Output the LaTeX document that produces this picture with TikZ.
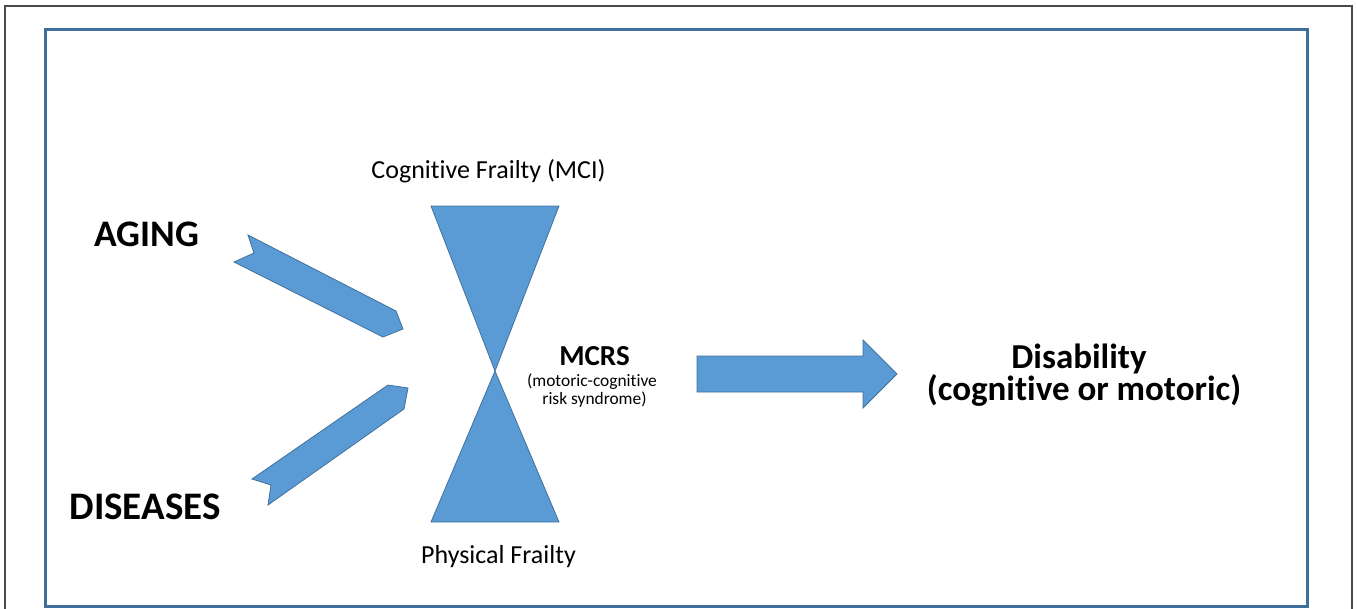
\documentclass[tikz,border=0pt]{standalone}
\usepackage{fontspec}
\setmainfont[Ligatures={NoCommon}]{Carlito}
\definecolor{shapeblue}{HTML}{5B9BD5}
\definecolor{edgeblue}{HTML}{41719C}
\definecolor{frameblue}{HTML}{3F6D9C}
\definecolor{outergray}{HTML}{4A4A4A}
\begin{document}
\begin{tikzpicture}[x=1pt,y=-1pt,
  blockshape/.style={fill=shapeblue, draw=edgeblue, line width=0.8pt, line join=miter},
  lbl/.style={anchor=base, inner sep=0pt, text=black}]
\useasboundingbox (0,0) rectangle (1357,608);
\begin{scope}
  \clip (0,0) rectangle (1357,608);
  \draw[outergray, line width=1.5pt] (5,6) rectangle (1352,620);
\end{scope}
\draw[frameblue, line width=3pt] (45,29) rectangle (1307,606);

% notched arrows
\path[blockshape] (248,235) -- (396,311) -- (403,329) -- (383,337) -- (234,262) -- (254,253) -- cycle;
\path[blockshape] (252,479) -- (388,385) -- (408,388) -- (404,409) -- (268,505) -- (271,485) -- cycle;

% hourglass
\path[blockshape] (431,206) -- (559,206) -- (495,371) -- cycle;
\path[blockshape] (495,371) -- (559,522) -- (431,522) -- cycle;

% block arrow
\path[blockshape] (697,356) -- (863,356) -- (863,340) -- (897,374) -- (863,408) -- (863,392) -- (697,392) -- cycle;

% labels
\node[lbl, font=\bfseries\fontsize{37.5}{42}\selectfont] (aging) at (147,246) {AGING};
\node[lbl, font=\bfseries\fontsize{39}{44}\selectfont] (diseases) at (145,519) {DISEASES};
\node[lbl, font=\fontsize{26}{30}\selectfont] (cog) at (488.5,178) {Cognitive Frailty (MCI)};
\node[lbl, font=\fontsize{26}{30}\selectfont] (phys) at (498.5,563) {Physical Frailty};
\node[lbl, font=\bfseries\fontsize{29}{33}\selectfont] (mcrs) at (594.5,365) {MCRS};
\node[lbl, font=\fontsize{17.4}{20}\selectfont] (mcrsa) at (592,386) {(motoric-cognitive};
\node[lbl, font=\fontsize{17.4}{20}\selectfont] (mcrsb) at (594.5,404) {risk syndrome)};
\node[lbl, font=\bfseries\fontsize{35}{40}\selectfont] (disa) at (1079,368) {Disability};
\node[lbl, font=\bfseries\fontsize{35}{40}\selectfont] (disb) at (1084,400) {(cognitive or motoric)};
\end{tikzpicture}
\end{document}
